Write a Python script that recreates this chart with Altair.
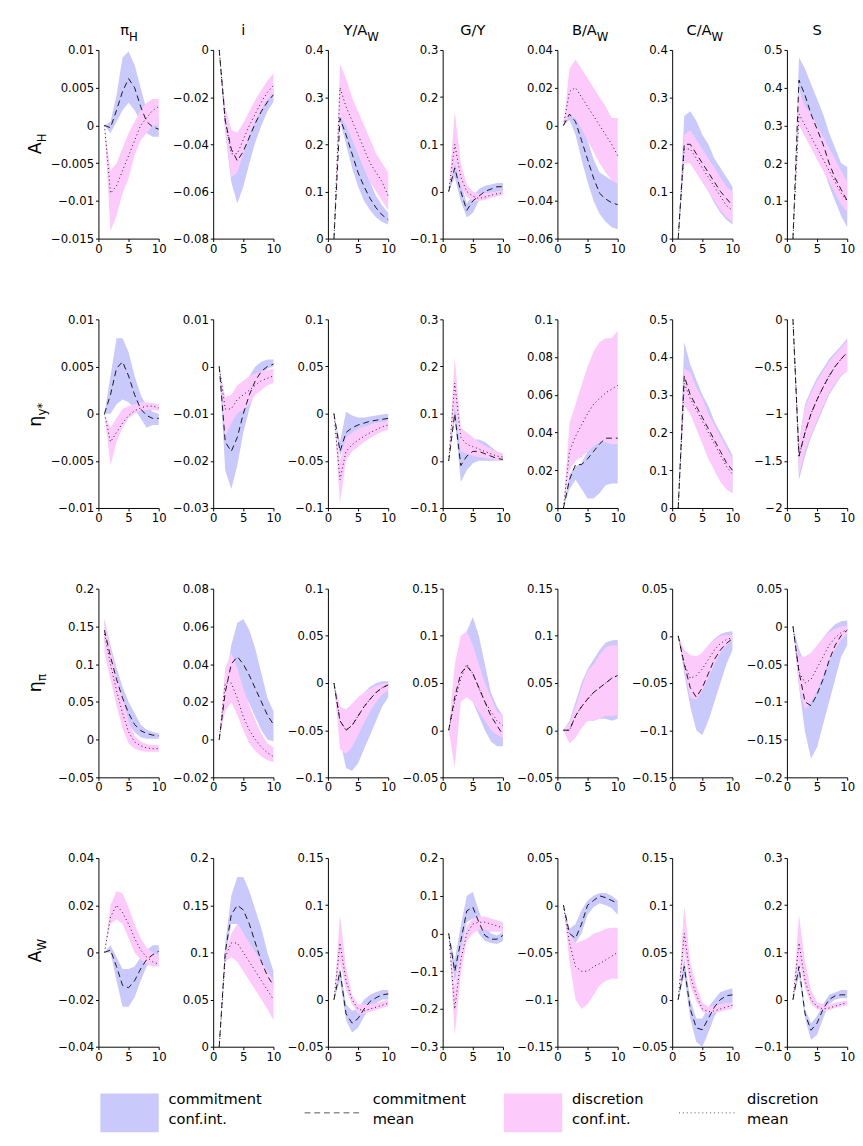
import altair as alt
import pandas as pd

T = list(range(1, 11))
BLUE = "#c9c9fb"
PINK = "#fccbfc"

col_titles = [("π", "H"), ("i", ""), ("Y/A", "W"), ("G/Y", ""), ("B/A", "W"), ("C/A", "W"), ("S", "")]
row_titles = [("A", "H"), ("η", "y*"), ("η", "π"), ("A", "W")]

dom = [
    [(-0.015, 0.01, 0.005), (-0.08, 0, 0.02), (0, 0.4, 0.1), (-0.1, 0.3, 0.1), (-0.06, 0.04, 0.02), (0, 0.4, 0.1), (0, 0.5, 0.1)],
    [(-0.01, 0.01, 0.005), (-0.03, 0.01, 0.01), (-0.1, 0.1, 0.05), (-0.1, 0.3, 0.1), (0, 0.1, 0.02), (0, 0.5, 0.1), (-2, 0, 0.5)],
    [(-0.05, 0.2, 0.05), (-0.02, 0.08, 0.02), (-0.1, 0.1, 0.05), (-0.05, 0.15, 0.05), (-0.05, 0.15, 0.05), (-0.15, 0.05, 0.05), (-0.2, 0.05, 0.05)],
    [(-0.04, 0.04, 0.02), (0, 0.2, 0.05), (-0.05, 0.15, 0.05), (-0.3, 0.2, 0.1), (-0.15, 0.05, 0.05), (-0.05, 0.15, 0.05), (-0.1, 0.3, 0.1)],
]

p00 = dict(cm=[0,-0.0003,0.002,0.0045,0.0062,0.005,0.0025,0.0005,-0.0002,-0.0005],
           cl=[0,-0.001,0.0005,0.002,0.003,0.002,0.0005,-0.001,-0.0015,-0.0015],
           cu=[0,0.0005,0.004,0.009,0.0098,0.008,0.005,0.002,0.001,0.001],
           dm=[0,-0.009,-0.008,-0.006,-0.004,-0.002,0,0.001,0.002,0.0025],
           dl=[0,-0.014,-0.012,-0.009,-0.007,-0.004,-0.002,-0.001,0,0],
           du=[0,-0.006,-0.005,-0.003,-0.001,0.0005,0.002,0.003,0.0035,0.0035])
p01 = dict(cm=[0,-0.03,-0.042,-0.047,-0.043,-0.037,-0.031,-0.026,-0.022,-0.019],
           cl=[0,-0.035,-0.056,-0.065,-0.058,-0.048,-0.039,-0.032,-0.026,-0.022],
           cu=[0,-0.025,-0.034,-0.036,-0.034,-0.03,-0.026,-0.022,-0.019,-0.016],
           dm=[0,-0.03,-0.044,-0.044,-0.038,-0.032,-0.027,-0.022,-0.018,-0.015],
           dl=[0,-0.034,-0.054,-0.052,-0.044,-0.036,-0.03,-0.025,-0.021,-0.018],
           du=[0,-0.024,-0.034,-0.035,-0.031,-0.026,-0.021,-0.017,-0.013,-0.010])
p02 = dict(cm=[0,0.255,0.22,0.18,0.14,0.11,0.085,0.065,0.05,0.04],
           cl=[0,0.25,0.2,0.15,0.11,0.08,0.06,0.045,0.035,0.03],
           cu=[0,0.27,0.25,0.22,0.18,0.15,0.12,0.09,0.07,0.055],
           dm=[0,0.32,0.28,0.25,0.22,0.19,0.16,0.14,0.12,0.09],
           dl=[0,0.26,0.24,0.21,0.18,0.15,0.12,0.1,0.08,0.06],
           du=[0,0.37,0.34,0.3,0.27,0.24,0.21,0.18,0.16,0.14])
p03 = dict(cm=[0,0.05,0.0,-0.04,-0.02,-0.01,0,0.005,0.01,0.01],
           cl=[0,0.03,-0.02,-0.055,-0.045,-0.02,-0.01,-0.005,0,0],
           cu=[0,0.08,0.02,-0.025,-0.01,0.005,0.012,0.015,0.018,0.018],
           dm=[0,0.1,0.03,0,-0.01,-0.015,-0.012,-0.008,-0.005,-0.003],
           dl=[0,0.06,0.01,-0.012,-0.02,-0.02,-0.018,-0.014,-0.01,-0.008],
           du=[0,0.17,0.06,0.015,0.0,-0.005,-0.004,-0.002,0,0.002])
p04 = dict(cm=[0,0.006,0.002,-0.008,-0.018,-0.028,-0.036,-0.039,-0.041,-0.042],
           cl=[0,0.003,-0.005,-0.018,-0.03,-0.04,-0.047,-0.051,-0.054,-0.055],
           cu=[0,0.008,0.008,0.002,-0.008,-0.018,-0.025,-0.027,-0.029,-0.03],
           dm=[0,0.018,0.02,0.015,0.01,0.005,0,-0.005,-0.01,-0.016],
           dl=[0,0.005,0.004,-0.002,-0.008,-0.014,-0.02,-0.025,-0.029,-0.031],
           du=[0,0.03,0.035,0.03,0.025,0.02,0.015,0.01,0.004,0.004])
p05 = dict(cm=[0,0.2,0.2,0.18,0.16,0.14,0.12,0.1,0.085,0.07],
           cl=[0,0.17,0.16,0.14,0.12,0.1,0.075,0.055,0.04,0.03],
           cu=[0,0.26,0.27,0.25,0.22,0.2,0.17,0.15,0.13,0.11],
           dm=[0,0.19,0.19,0.17,0.15,0.13,0.11,0.09,0.07,0.06],
           dl=[0,0.16,0.16,0.14,0.12,0.1,0.08,0.06,0.045,0.035],
           du=[0,0.22,0.23,0.21,0.19,0.17,0.15,0.13,0.11,0.1])
p06 = dict(cm=[0,0.42,0.38,0.33,0.29,0.25,0.2,0.16,0.13,0.1],
           cl=[0,0.4,0.33,0.28,0.23,0.19,0.14,0.1,0.06,0.03],
           cu=[0,0.48,0.45,0.41,0.37,0.33,0.28,0.24,0.2,0.19],
           dm=[0,0.33,0.3,0.27,0.24,0.21,0.18,0.15,0.12,0.1],
           dl=[0,0.3,0.27,0.24,0.21,0.18,0.15,0.12,0.09,0.07],
           du=[0,0.39,0.35,0.33,0.3,0.27,0.24,0.21,0.18,0.15])
p10 = dict(cm=[0,0.002,0.0048,0.0055,0.004,0.002,0.0005,-0.0002,-0.0005,-0.0005],
           cl=[0,0,0.001,0.0015,0.0012,0.0005,-0.0005,-0.0015,-0.0012,-0.0012],
           cu=[0,0.004,0.008,0.008,0.0065,0.004,0.002,0.0008,0.0002,0],
           dm=[0,-0.003,-0.002,-0.001,-0.0002,0.0003,0.0006,0.0008,0.0008,0.0006],
           dl=[0,-0.0055,-0.003,-0.0015,-0.0005,0,0.0003,0.0004,0.0004,0.0003],
           du=[0,-0.0015,-0.0005,0.0005,0.0008,0.001,0.0012,0.0012,0.0011,0.001])
p11 = dict(cm=[0,-0.016,-0.018,-0.015,-0.01,-0.006,-0.003,-0.001,0,0.0005],
           cl=[0,-0.022,-0.026,-0.021,-0.014,-0.009,-0.005,-0.002,-0.0005,0],
           cu=[0,-0.012,-0.011,-0.008,-0.005,-0.002,0,0.001,0.0015,0.0015],
           dm=[0,-0.009,-0.009,-0.007,-0.006,-0.005,-0.004,-0.003,-0.0025,-0.002],
           dl=[0,-0.015,-0.012,-0.01,-0.009,-0.008,-0.006,-0.005,-0.004,-0.0035],
           du=[0,-0.0065,-0.006,-0.004,-0.003,-0.002,-0.0015,-0.001,-0.0007,-0.0005])
p12 = dict(cm=[0,-0.04,-0.02,-0.015,-0.012,-0.01,-0.008,-0.007,-0.006,-0.005],
           cl=[0,-0.045,-0.03,-0.022,-0.018,-0.015,-0.012,-0.01,-0.009,-0.008],
           cu=[0,-0.03,0.002,-0.002,-0.004,-0.004,-0.003,-0.002,-0.001,0],
           dm=[0,-0.07,-0.04,-0.033,-0.028,-0.024,-0.02,-0.017,-0.014,-0.012],
           dl=[0,-0.095,-0.05,-0.04,-0.035,-0.03,-0.026,-0.022,-0.019,-0.017],
           du=[0,-0.05,-0.025,-0.02,-0.016,-0.014,-0.012,-0.01,-0.009,-0.008])
p13 = dict(cm=[0,0.1,-0.01,0.01,0.02,0.02,0.015,0.01,0.005,0.003],
           cl=[0,0.09,-0.045,-0.02,-0.005,0.0,0.0,0.0,0.0,0.0],
           cu=[0,0.12,0.03,0.035,0.045,0.045,0.04,0.03,0.02,0.015],
           dm=[0,0.165,0.05,0.035,0.03,0.025,0.02,0.015,0.01,0.008],
           dl=[0,0.12,0.02,0.015,0.01,0.008,0.006,0.004,0.002,0],
           du=[0,0.22,0.07,0.06,0.05,0.04,0.032,0.025,0.02,0.015])
p14 = dict(cm=[0,0.015,0.023,0.023,0.026,0.03,0.034,0.037,0.037,0.037],
           cl=[0,0.01,0.015,0.01,0.005,0.005,0.008,0.012,0.013,0.013],
           cu=[0,0.018,0.022,0.024,0.03,0.033,0.035,0.035,0.034,0.034],
           dm=[0,0.03,0.038,0.044,0.05,0.055,0.058,0.061,0.063,0.065],
           dl=[0,0.02,0.025,0.027,0.03,0.033,0.035,0.035,0.034,0.034],
           du=[0,0.045,0.055,0.065,0.075,0.083,0.088,0.09,0.09,0.094])
p15 = dict(cm=[0,0.35,0.3,0.27,0.24,0.21,0.18,0.15,0.12,0.1],
           cl=[0,0.3,0.26,0.22,0.18,0.14,0.1,0.07,0.05,0.04],
           cu=[0,0.44,0.38,0.34,0.3,0.27,0.23,0.2,0.17,0.14],
           dm=[0,0.33,0.29,0.26,0.23,0.2,0.17,0.14,0.11,0.09],
           dl=[0,0.27,0.25,0.21,0.17,0.13,0.1,0.07,0.05,0.04],
           du=[0,0.37,0.36,0.32,0.29,0.25,0.22,0.19,0.16,0.13])
p16 = dict(cm=[0,-1.45,-1.2,-1.0,-0.85,-0.72,-0.6,-0.5,-0.42,-0.35],
           cl=[0,-1.7,-1.45,-1.25,-1.1,-0.95,-0.8,-0.7,-0.6,-0.55],
           cu=[0,-1.3,-0.9,-0.75,-0.62,-0.52,-0.42,-0.35,-0.28,-0.2],
           dm=[0,-1.45,-1.2,-1.0,-0.85,-0.72,-0.6,-0.5,-0.42,-0.35],
           dl=[0,-1.65,-1.4,-1.22,-1.07,-0.92,-0.78,-0.68,-0.59,-0.55],
           du=[0,-1.3,-0.93,-0.78,-0.65,-0.55,-0.45,-0.37,-0.3,-0.23])
p20 = dict(cm=[0.145,0.11,0.08,0.055,0.035,0.02,0.012,0.008,0.006,0.005],
           cl=[0.13,0.095,0.065,0.04,0.02,0.01,0.003,0.001,0.001,0.001],
           cu=[0.16,0.125,0.095,0.07,0.05,0.035,0.02,0.013,0.01,0.008],
           dm=[0.14,0.1,0.065,0.035,0.01,-0.003,-0.008,-0.011,-0.012,-0.012],
           dl=[0.115,0.08,0.045,0.015,-0.005,-0.012,-0.015,-0.016,-0.016,-0.016],
           du=[0.16,0.12,0.085,0.055,0.025,0.005,-0.002,-0.006,-0.007,-0.007])
p21 = dict(cm=[0,0.025,0.04,0.044,0.04,0.034,0.027,0.02,0.013,0.008],
           cl=[0,0.02,0.025,0.028,0.025,0.019,0.012,0.005,0,-0.001],
           cu=[0,0.03,0.05,0.062,0.064,0.058,0.048,0.035,0.022,0.015],
           dm=[0,0.03,0.03,0.022,0.012,0.005,0,-0.004,-0.007,-0.009],
           dl=[0,0.015,0.02,0.013,0.005,-0.002,-0.006,-0.009,-0.011,-0.012],
           du=[0,0.038,0.046,0.038,0.027,0.018,0.01,0.003,-0.002,-0.004])
p22 = dict(cm=[0,-0.04,-0.05,-0.045,-0.035,-0.025,-0.017,-0.01,-0.005,-0.002],
           cl=[0,-0.06,-0.09,-0.093,-0.085,-0.07,-0.055,-0.04,-0.025,-0.015],
           cu=[0,-0.025,-0.035,-0.028,-0.018,-0.01,-0.004,0.0,0.002,0.002],
           dm=[0,-0.04,-0.05,-0.045,-0.035,-0.025,-0.017,-0.01,-0.005,-0.002],
           dl=[0,-0.07,-0.075,-0.068,-0.055,-0.042,-0.03,-0.02,-0.012,-0.008],
           du=[0,-0.025,-0.028,-0.022,-0.015,-0.01,-0.006,-0.003,-0.001,0.0])
p23 = dict(cm=[0,0.035,0.06,0.068,0.06,0.045,0.03,0.015,0.005,-0.005],
           cl=[0,0.03,0.035,0.04,0.03,0.015,0.0,-0.012,-0.017,-0.017],
           cu=[0,0.05,0.08,0.105,0.12,0.1,0.07,0.04,0.025,0.015],
           dm=[0,0.03,0.055,0.07,0.06,0.045,0.03,0.02,0.01,0.005],
           dl=[0,-0.04,0.03,0.035,0.03,0.02,0.01,0.0,-0.005,-0.008],
           du=[0,0.07,0.1,0.105,0.09,0.07,0.05,0.035,0.02,0.015])
p24 = dict(cm=[0,0.0,0.015,0.025,0.033,0.04,0.045,0.05,0.055,0.058],
           cl=[0,-0.01,0.0,0.005,0.01,0.01,0.012,0.012,0.01,0.012],
           cu=[0,0.01,0.03,0.05,0.065,0.075,0.085,0.093,0.095,0.096],
           dm=[0,0.0,0.015,0.025,0.033,0.04,0.045,0.05,0.055,0.058],
           dl=[0,-0.014,-0.008,0.002,0.01,0.01,0.012,0.015,0.015,0.016],
           du=[0,0.008,0.025,0.045,0.063,0.07,0.08,0.088,0.09,0.09])
p25 = dict(cm=[0,-0.03,-0.055,-0.065,-0.055,-0.04,-0.025,-0.015,-0.008,-0.003],
           cl=[0,-0.04,-0.075,-0.1,-0.105,-0.09,-0.07,-0.05,-0.03,-0.015],
           cu=[0,-0.015,-0.025,-0.025,-0.018,-0.01,-0.003,0.002,0.004,0.005],
           dm=[0,-0.03,-0.045,-0.042,-0.035,-0.025,-0.015,-0.008,-0.004,-0.002],
           dl=[0,-0.035,-0.065,-0.068,-0.058,-0.045,-0.03,-0.018,-0.01,-0.005],
           du=[0,-0.015,-0.02,-0.022,-0.018,-0.01,-0.004,0,0.001,0.001])
p26 = dict(cm=[0,-0.06,-0.1,-0.105,-0.09,-0.07,-0.045,-0.025,-0.012,-0.005],
           cl=[0,-0.08,-0.14,-0.175,-0.16,-0.13,-0.1,-0.07,-0.04,-0.025],
           cu=[0,-0.03,-0.05,-0.045,-0.03,-0.015,-0.005,0.003,0.007,0.008],
           dm=[0,-0.06,-0.075,-0.07,-0.055,-0.04,-0.025,-0.015,-0.008,-0.004],
           dl=[0,-0.08,-0.11,-0.1,-0.085,-0.065,-0.045,-0.03,-0.018,-0.01],
           du=[0,-0.04,-0.04,-0.035,-0.025,-0.015,-0.008,-0.003,0,0.001])
p30 = dict(cm=[0,0.001,-0.006,-0.014,-0.015,-0.012,-0.007,-0.003,-0.001,0.0005],
           cl=[0,0,-0.012,-0.023,-0.023,-0.019,-0.012,-0.006,-0.003,-0.002],
           cu=[0,0.003,-0.002,-0.007,-0.007,-0.006,-0.002,0.001,0.003,0.003],
           dm=[0,0.015,0.02,0.017,0.012,0.006,0.001,-0.002,-0.004,-0.005],
           dl=[0,0.012,0.014,0.012,0.006,0.0,-0.003,-0.005,-0.006,-0.006],
           du=[0,0.02,0.026,0.025,0.019,0.012,0.006,0.002,0,-0.001])
p31 = dict(cm=[0,0.1,0.14,0.15,0.145,0.13,0.11,0.09,0.075,0.065],
           cl=[0,0.095,0.13,0.13,0.12,0.105,0.09,0.08,0.07,0.06],
           cu=[0,0.11,0.16,0.18,0.18,0.165,0.145,0.125,0.1,0.08],
           dm=[0,0.095,0.11,0.11,0.1,0.09,0.08,0.07,0.06,0.05],
           dl=[0,0.09,0.095,0.09,0.08,0.07,0.06,0.05,0.04,0.028],
           du=[0,0.1,0.12,0.13,0.12,0.11,0.1,0.09,0.08,0.07])
p32 = dict(cm=[0,0.03,-0.015,-0.025,-0.02,-0.01,-0.002,0.002,0.005,0.006],
           cl=[0,0.02,-0.022,-0.035,-0.03,-0.018,-0.008,-0.004,0.0,0.0],
           cu=[0,0.035,-0.005,-0.012,-0.01,0.0,0.005,0.008,0.01,0.01],
           dm=[0,0.06,0.02,0.0,-0.01,-0.012,-0.01,-0.008,-0.006,-0.004],
           dl=[0,0.04,0.01,-0.005,-0.015,-0.015,-0.013,-0.011,-0.009,-0.007],
           du=[0,0.09,0.035,0.005,-0.005,-0.005,-0.005,-0.004,-0.002,0.0])
p33 = dict(cm=[0,-0.1,-0.02,0.06,0.07,0.03,-0.005,-0.015,-0.015,-0.005],
           cl=[0,-0.13,-0.05,0.03,0.04,0.0,-0.02,-0.025,-0.028,-0.02],
           cu=[0,-0.07,0.02,0.1,0.11,0.06,0.02,0.0,-0.005,0.005],
           dm=[0,-0.2,-0.07,0.0,0.025,0.03,0.03,0.025,0.02,0.015],
           dl=[0,-0.27,-0.11,-0.02,0.0,0.01,0.01,0.005,0.005,0.005],
           du=[0,-0.14,-0.04,0.02,0.04,0.045,0.045,0.04,0.035,0.03])
p34 = dict(cm=[0,-0.03,-0.035,-0.02,0,0.005,0.01,0.008,0.005,0.002],
           cl=[0,-0.035,-0.04,-0.03,-0.01,-0.002,0.002,0.0,-0.003,-0.01],
           cu=[0,-0.025,-0.02,-0.005,0.005,0.01,0.013,0.013,0.01,0.005],
           dm=[0,-0.04,-0.065,-0.07,-0.07,-0.065,-0.062,-0.058,-0.054,-0.05],
           dl=[0,-0.06,-0.1,-0.11,-0.105,-0.095,-0.085,-0.08,-0.078,-0.078],
           du=[0,-0.03,-0.04,-0.038,-0.035,-0.03,-0.028,-0.025,-0.024,-0.024])
p35 = dict(cm=[0,0.035,-0.01,-0.03,-0.032,-0.02,-0.008,0.0,0.004,0.005],
           cl=[0,0.025,-0.02,-0.045,-0.05,-0.035,-0.018,-0.008,-0.004,-0.004],
           cu=[0,0.045,0.0,-0.02,-0.02,-0.008,0.0,0.008,0.01,0.012],
           dm=[0,0.07,0.025,0.005,-0.01,-0.013,-0.012,-0.01,-0.008,-0.006],
           dl=[0,0.05,0.015,-0.002,-0.013,-0.015,-0.014,-0.013,-0.011,-0.01],
           du=[0,0.1,0.04,0.015,-0.003,-0.008,-0.006,-0.005,-0.004,-0.003])
p36 = dict(cm=[0,0.07,-0.03,-0.065,-0.05,-0.02,0.0,0.008,0.01,0.01],
           cl=[0,0.05,-0.04,-0.085,-0.075,-0.04,-0.01,0.0,0.003,0.003],
           cu=[0,0.08,-0.02,-0.05,-0.035,-0.01,0.01,0.015,0.02,0.02],
           dm=[0,0.12,0.04,0.0,-0.015,-0.02,-0.018,-0.014,-0.01,-0.007],
           dl=[0,0.08,0.025,-0.01,-0.02,-0.025,-0.022,-0.018,-0.015,-0.012],
           du=[0,0.18,0.08,0.02,-0.005,-0.01,-0.01,-0.007,-0.004,-0.002])

PANELS = [[p00, p01, p02, p03, p04, p05, p06],
          [p10, p11, p12, p13, p14, p15, p16],
          [p20, p21, p22, p23, p24, p25, p26],
          [p30, p31, p32, p33, p34, p35, p36]]

W, H = 62, 194
FONT = "DejaVu Sans"
LBL = "replace(toString(datum.value), '-', '\u2212')"
one = alt.Data(values=[{"k": 1}])


def ticks(lo, hi, step):
    n = int(round((hi - lo) / step))
    return [round(lo + i * step, 6) for i in range(n + 1)]


def ax(vals, **kw):
    return alt.Axis(values=vals, title=None, labelExpr=LBL, labelOverlap=False, labelFont=FONT,
                    labelFontSize=12, labelColor="black", domainColor="black", tickColor="black",
                    tickSize=3, grid=False, labelPadding=2, labelFlush=False, labelBound=False, **kw)


def panel(r, c):
    d = PANELS[r][c]
    lo, hi, step = dom[r][c]
    df = pd.DataFrame({"t": T, **d})
    base = alt.Chart(df)
    xsc = alt.Scale(domain=[0, 10], nice=False)
    ysc = alt.Scale(domain=[lo, hi], nice=False, zero=False)
    xax = ax([0, 5, 10])
    yax = ax(ticks(lo, hi, step), minExtent=48, maxExtent=48)
    x = alt.X("t:Q", scale=xsc, axis=xax)
    blue = base.mark_area(color=BLUE, opacity=1).encode(x=x, y=alt.Y("cl:Q", scale=ysc, axis=yax), y2="cu:Q")
    pink = base.mark_area(color=PINK, opacity=1).encode(x=x, y=alt.Y("dl:Q", scale=ysc, axis=yax), y2="du:Q")
    cl = base.mark_line(color="black", strokeDash=[6, 4], strokeWidth=0.9).encode(x=x, y=alt.Y("cm:Q", scale=ysc, axis=yax))
    dl = base.mark_line(color="black", strokeDash=[1, 3], strokeWidth=0.9).encode(x=x, y=alt.Y("dm:Q", scale=ysc, axis=yax))
    layers = [blue, pink, cl, dl]
    if r == 0:
        main, sub = col_titles[c]
        total = len(main) * 9 + len(sub) * 8
        split = 31 - total / 2 + len(main) * 9
        if sub:
            layers.append(alt.Chart(one).mark_text(font=FONT, fontSize=15, align="right", baseline="alphabetic")
                          .encode(text=alt.value(main), x=alt.value(split), y=alt.value(-15)))
            layers.append(alt.Chart(one).mark_text(font=FONT, fontSize=12, align="left", baseline="alphabetic")
                          .encode(text=alt.value(sub), x=alt.value(split), y=alt.value(-9)))
        else:
            layers.append(alt.Chart(one).mark_text(font=FONT, fontSize=15, align="center", baseline="alphabetic")
                          .encode(text=alt.value(main), x=alt.value(31), y=alt.value(-15)))
    if c == 0:
        main, sub = row_titles[r]
        total = len(main) * 12 + len(sub) * 8
        split = H / 2 + total / 2 - len(main) * 12
        layers.append(alt.Chart(one).mark_text(font=FONT, fontSize=18, align="right", baseline="alphabetic", angle=270)
                      .encode(text=alt.value(main), x=alt.value(-59), y=alt.value(split)))
        layers.append(alt.Chart(one).mark_text(font=FONT, fontSize=12, align="left", baseline="alphabetic", angle=270)
                      .encode(text=alt.value(sub), x=alt.value(-54), y=alt.value(split)))
    return alt.layer(*layers).properties(width=W, height=H)


rows = [alt.hconcat(*[panel(r, c) for c in range(7)], spacing=0) for r in range(4)]
grid = alt.vconcat(*rows, spacing=61)

leg_items = ["commitment conf.int.", "commitment mean", "discretion conf.int.", "discretion mean"]
lx = [2, 212, 417, 597]
L = []
L.append(alt.Chart(one).mark_rect(color=BLUE).encode(x=alt.value(lx[0]), x2=alt.value(lx[0] + 60), y=alt.value(0), y2=alt.value(40)))
L.append(alt.Chart(one).mark_rule(color="#555", strokeDash=[6, 4], strokeWidth=1).encode(x=alt.value(lx[1]), x2=alt.value(lx[1] + 60), y=alt.value(20)))
L.append(alt.Chart(one).mark_rect(color=PINK).encode(x=alt.value(lx[2]), x2=alt.value(lx[2] + 60), y=alt.value(0), y2=alt.value(40)))
L.append(alt.Chart(one).mark_rule(color="#555", strokeDash=[1, 3], strokeWidth=1).encode(x=alt.value(lx[3]), x2=alt.value(lx[3] + 60), y=alt.value(20)))
for i, lab in enumerate(leg_items):
    L.append(alt.Chart(one).mark_text(font=FONT, fontSize=15, align="left", baseline="top", lineHeight=21)
             .encode(text=alt.value(lab.split(" ")), x=alt.value(lx[i] + 70), y=alt.value(-1)))
legend = alt.layer(*L).properties(width=740, height=40)

chart = alt.vconcat(grid, legend, spacing=31).configure_view(stroke=None).properties(
    padding={"left": 20, "top": 0, "right": 0, "bottom": 0})

chart.save("out.html", embed_options={"renderer": "svg", "actions": False})
